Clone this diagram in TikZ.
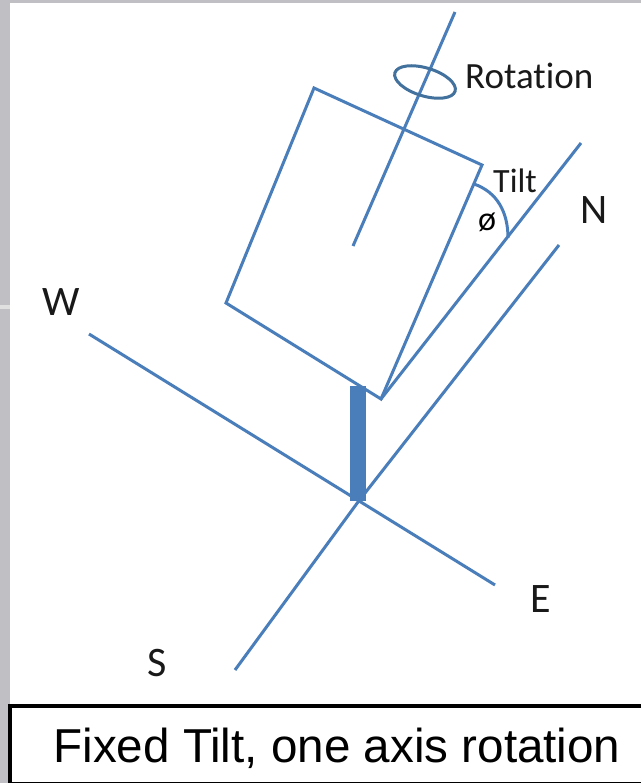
\documentclass[tikz,border=0pt]{standalone}
\usepackage{fontspec}
\setmainfont[Ligatures=NoCommon]{Carlito}
\newfontfamily\capfont{Liberation Sans}
\definecolor{lineblue}{HTML}{4A7EBB}
\definecolor{ringblue}{HTML}{41719C}
\definecolor{barblue}{HTML}{4A7EBB}
\definecolor{sidegray}{HTML}{BFBFC4}
\begin{document}
\begin{tikzpicture}[x=1pt,y=-1pt,
  blueline/.style={draw=lineblue,line width=3pt},
  compass/.style={font=\fontsize{42}{42}\selectfont,inner sep=0pt,anchor=base,text=black!90},
  lbl/.style={inner sep=0pt,anchor=base west,text=black!90}]
\useasboundingbox (0,0) rectangle (641,783);
\fill[white] (0,0) rectangle (641,783);
\fill[sidegray] (0,0) rectangle (641,3);
\fill[sidegray] (0,0) rectangle (10,706);
\fill[sidegray] (0,706) rectangle (8,783);
\fill[black!12] (0,305) rectangle (10,309);
% panel and axes
\coordinate (pa) at (314,88);
\coordinate (pb) at (482,165);
\coordinate (pc) at (381,399);
\coordinate (pd) at (226,303);
\coordinate (axT) at (455,12);
\coordinate (axB) at (353,246);
\coordinate (tiltEnd) at (581,143);
\coordinate (nEnd) at (559,245);
\coordinate (nsMid) at (358,502);
\coordinate (sEnd) at (235,670);
\coordinate (wEnd) at (89,334);
\coordinate (eEnd) at (495,585);
\coordinate (arcA) at (474,184);
\coordinate (arcB) at (508,238);
\draw[blueline,line join=miter] (pa) -- (pb) -- (pc) -- (pd) -- cycle;
\draw[blueline] (axT) -- (axB);
\draw[blueline] (pc) -- (tiltEnd);
\draw[blueline] (sEnd) -- (nsMid) -- (nEnd);
\draw[blueline] (wEnd) -- (eEnd);
\draw[blueline] (arcA) .. controls (497,192) and (508,212) .. (arcB);
\draw[ringblue,line width=3pt,rotate around={-17:(425,82)}] (425,82) ellipse [x radius=31.5pt,y radius=14pt];
\fill[barblue] (350,386) rectangle (366,501);
% labels
\node[lbl,font=\fontsize{37}{37}\selectfont] (rot) at (465,89) {Rotation};
\node[lbl,font=\fontsize{34}{34}\selectfont] (tilt) at (493,193) {Tilt};
\node[inner sep=0pt,anchor=base,font=\fontsize{34}{34}\selectfont] (phi) at (487,231) {ø};
\node[compass] (n) at (594,224) {N};
\node[compass] (w) at (61,315) {W};
\node[compass] (e) at (541,612) {E};
\node[compass] (s) at (157,676) {S};
% caption
\draw[black,line width=4pt] (641,706) -- (10,706) -- (10,783);
\draw[black,line width=1pt] (10,782.5) -- (641,782.5);
\node[inner sep=0pt,anchor=base,font=\capfont\fontsize{47.6}{47.6}\selectfont] (cap) at (337,762) {Fixed Tilt, one axis rotation};
\end{tikzpicture}
\end{document}
